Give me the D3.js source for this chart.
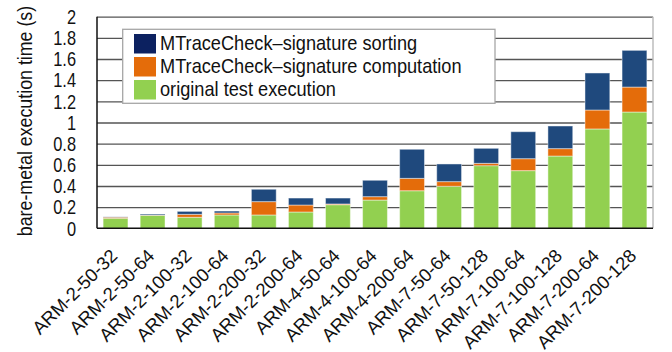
<!DOCTYPE html>
<html>
<head>
<meta charset="utf-8">
<script src="https://cdn.jsdelivr.net/npm/d3@7"></script>
<style>
  html, body { margin: 0; padding: 0; background: #fff; }
  svg { display: block; font-family: "Liberation Sans", Arial, sans-serif; }
</style>
</head>
<body>
<svg id="chart" width="672" height="352"></svg>
<script>
// ---- data ----
const categories = ["ARM-2-50-32","ARM-2-50-64","ARM-2-100-32","ARM-2-100-64","ARM-2-200-32","ARM-2-200-64",
  "ARM-4-50-64","ARM-4-100-64","ARM-4-200-64","ARM-7-50-64","ARM-7-50-128","ARM-7-100-64",
  "ARM-7-100-128","ARM-7-200-64","ARM-7-200-128"];
const originalValues    = [0.095, 0.123, 0.104, 0.126, 0.126, 0.154, 0.223, 0.267, 0.355, 0.397, 0.592, 0.545, 0.683, 0.939, 1.099];
const computationValues = [0.010, 0.002, 0.028, 0.019, 0.126, 0.066, 0.007, 0.032, 0.117, 0.044, 0.022, 0.113, 0.070, 0.179, 0.236];
const sortingValues     = [0.003, 0.010, 0.028, 0.018, 0.117, 0.066, 0.056, 0.155, 0.275, 0.167, 0.142, 0.255, 0.214, 0.350, 0.347];
const yTicks = [0, 0.2, 0.4, 0.6, 0.8, 1, 1.2, 1.4, 1.6, 1.8, 2];
const seriesNames = ["MTraceCheck\u2013signature sorting", "MTraceCheck\u2013signature computation", "original test execution"];
const yTitle = "bare-metal execution time (s)";

// ---- styles ----
const barColors = { original: "#92D050", computation: "#E46C0A", sorting: "#1F497D" };
const legendColors = ["#0C2160", "#E46C0A", "#92D050"];

const svg = d3.select("#chart");
const pLeft = 97, pRight = 653, pTop = 16.7, pBottom = 228.3;

const x = d3.scaleBand().domain(categories).range([pLeft, pRight]).paddingInner(0.33).paddingOuter(0.165);
const y = d3.scaleLinear().domain([0, 2]).range([pBottom, pTop]);

// gridlines
svg.append("g")
  .attr("transform", `translate(${pLeft},0)`)
  .call(d3.axisLeft(y).tickValues(yTicks.filter(d => d > 0)).tickSize(-(pRight - pLeft)).tickFormat(""))
  .call(g => g.select(".domain").remove())
  .call(g => g.selectAll("line").attr("stroke", "#555").attr("stroke-width", 1.3));

// right border
svg.append("line").attr("x1", pRight).attr("x2", pRight).attr("y1", pTop).attr("y2", pBottom)
  .attr("stroke", "#bdbdbd").attr("stroke-width", 1.5);

// stacked bars
const rows = categories.map((c, i) => ({ cat: c, original: originalValues[i], computation: computationValues[i], sorting: sortingValues[i] }));
const stack = d3.stack().keys(["original", "computation", "sorting"])(rows);
svg.append("g").selectAll("g").data(stack).join("g")
  .attr("fill", d => barColors[d.key])
  .selectAll("rect").data(d => d).join("rect")
  .attr("x", d => x(d.data.cat))
  .attr("width", x.bandwidth())
  .attr("y", d => y(d[1]))
  .attr("height", d => Math.max(0, y(d[0]) - y(d[1])))
  .attr("stroke", "#ffffff").attr("stroke-opacity", 0.45).attr("stroke-width", 1);

// axes lines (left + bottom)
svg.append("line").attr("x1", pLeft).attr("x2", pLeft).attr("y1", pTop).attr("y2", pBottom)
  .attr("stroke", "#111").attr("stroke-width", 1.5);
svg.append("line").attr("x1", pLeft).attr("x2", pRight).attr("y1", pBottom).attr("y2", pBottom)
  .attr("stroke", "#111").attr("stroke-width", 1.5);

// y tick labels
svg.append("g").selectAll("text").data(yTicks).join("text")
  .attr("transform", d => `translate(76,${y(d)}) scale(0.82,1)`)
  .attr("dy", "0.36em")
  .attr("text-anchor", "end")
  .attr("font-size", 20)
  .attr("fill", "#111")
  .text(d => String(+d.toFixed(1)));

// y title
svg.append("text")
  .attr("transform", `translate(32,121) rotate(-90) scale(0.89,1)`)
  .attr("text-anchor", "middle")
  .attr("font-size", 20)
  .attr("fill", "#111")
  .text(yTitle);

// x labels
svg.append("g").selectAll("text").data(categories).join("text")
  .attr("transform", d => `translate(${x(d) + x.bandwidth() / 2 + 3},257) rotate(-45)`)
  .attr("text-anchor", "end")
  .attr("font-size", 18.5)
  .attr("fill", "#111")
  .text(d => d);

// legend
const lg = svg.append("g");
lg.append("rect").attr("x", 122.7).attr("y", 29.3).attr("width", 495 - 122.7).attr("height", 103.3 - 29.3)
  .attr("fill", "#fff").attr("stroke", "#a6a6a6").attr("stroke-width", 1.3);
const items = lg.selectAll("g.item").data(seriesNames).join("g").attr("class", "item");
items.append("rect")
  .attr("x", 134).attr("y", (d, i) => 34 + i * 23).attr("width", 22).attr("height", 19.5)
  .attr("fill", (d, i) => legendColors[i]);
items.append("text")
  .attr("transform", (d, i) => `translate(160,${49.5 + i * 23}) scale(0.91,1)`)
  .attr("font-size", 20)
  .attr("fill", "#111")
  .text(d => d);
</script>
</body>
</html>
